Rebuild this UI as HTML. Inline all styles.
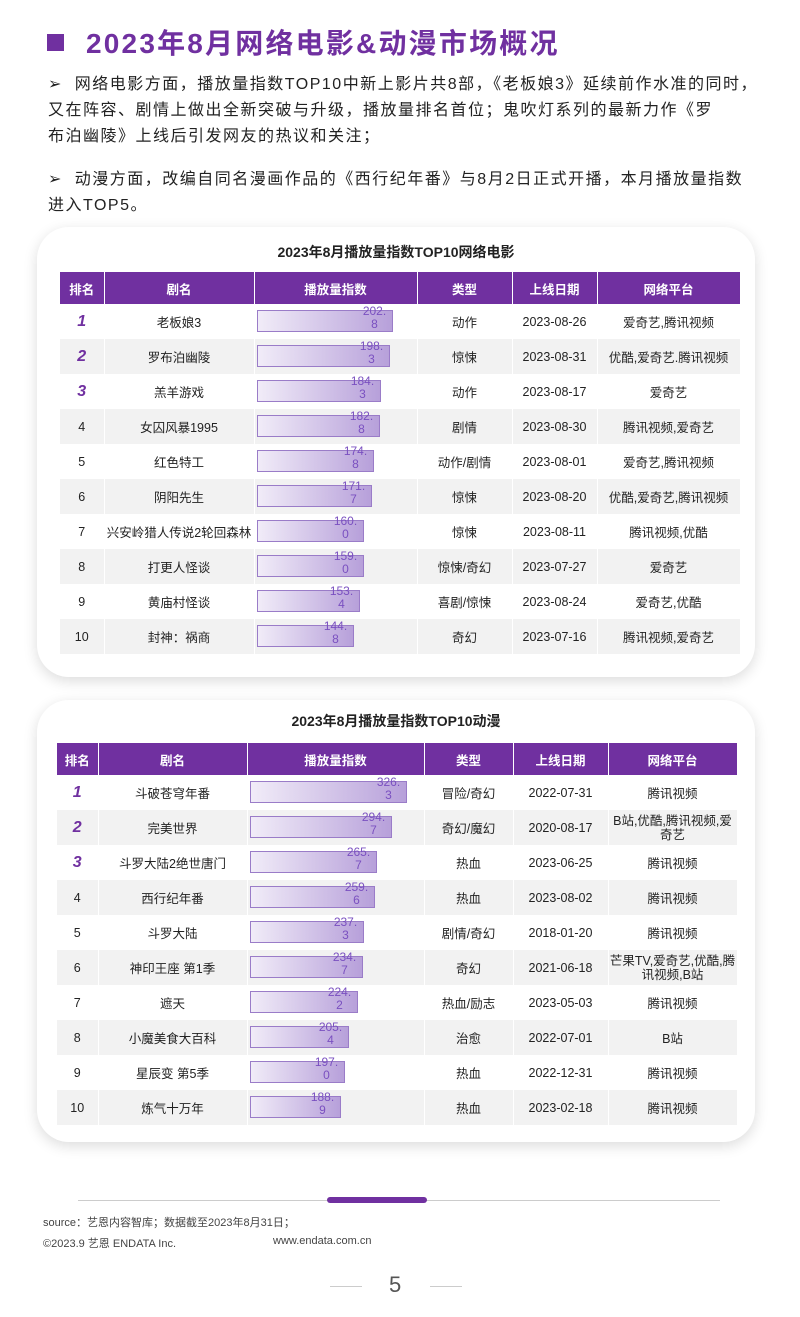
<!DOCTYPE html>
<html><head><meta charset="utf-8"><style>
*{margin:0;padding:0;box-sizing:border-box}
body{width:800px;height:1317px;background:#fff;font-family:"Liberation Sans","Noto Sans CJK SC",sans-serif;color:#222;position:relative;overflow:hidden}
.abs{position:absolute}
.title{left:86px;top:22px;font-size:28px;font-weight:bold;color:#7030a0;letter-spacing:2.2px}
.sq{left:47px;top:34px;width:17px;height:17px;background:#7030a0}
.p{left:48px;font-size:16px;line-height:26px;color:#222;width:720px;letter-spacing:1.5px;white-space:nowrap}
.card{background:#fff;border-radius:32px;box-shadow:0 4px 14px rgba(0,0,0,.14)}
table{border-collapse:collapse;position:absolute;table-layout:fixed}
td,th{text-align:center;font-size:12.5px;height:35px;padding:0;border-right:1px solid #fff;position:relative}
th{background:#7030a0;color:#fff;font-weight:bold;height:32px}
tr:nth-child(odd) td{background:#f2f2f2}
.r{font-style:italic;font-weight:bold;color:#7030a0;font-size:16px}
.bar{position:absolute;left:2px;top:6px;height:22px;border:1px solid #9a7cc8;background:linear-gradient(90deg,#f1ecf8,#b7a0da)}
.bar span{position:absolute;right:2px;top:-6px;width:30px;font-size:12px;line-height:13px;color:#7a50c0;text-align:center}
.ct{font-size:14px;font-weight:bold;text-align:center;width:718px}
</style></head><body>
<div class="abs sq"></div>
<div class="abs title">2023年8月网络电影&amp;动漫市场概况</div>
<div class="abs p" style="top:72px">➢ &nbsp;网络电影方面，播放量指数TOP10中新上影片共8部，《老板娘3》延续前作水准的同时，<br>又在阵容、剧情上做出全新突破与升级，播放量排名首位；鬼吹灯系列的最新力作《罗<br>布泊幽陵》上线后引发网友的热议和关注；</div>
<div class="abs p" style="top:167px">➢ &nbsp;动漫方面，改编自同名漫画作品的《西行纪年番》与8月2日正式开播，本月播放量指数<br>进入TOP5。</div>

<div class="abs card" style="left:37px;top:227px;width:718px;height:450px"></div>
<div class="abs ct" style="left:37px;top:242px">2023年8月播放量指数TOP10网络电影</div>
<table style="left:60px;top:272px;width:680px">
<colgroup><col style="width:44px"><col style="width:150px"><col style="width:163px"><col style="width:95px"><col style="width:85px"><col style="width:143px"></colgroup>
<tr><th>排名</th><th>剧名</th><th>播放量指数</th><th>类型</th><th>上线日期</th><th>网络平台</th></tr>
<tr><td class="r">1</td><td>老板娘3</td><td><div class="bar" style="width:136px"><span>202.<br>8</span></div></td><td>动作</td><td>2023-08-26</td><td>爱奇艺,腾讯视频</td></tr>
<tr><td class="r">2</td><td>罗布泊幽陵</td><td><div class="bar" style="width:133px"><span>198.<br>3</span></div></td><td>惊悚</td><td>2023-08-31</td><td>优酷,爱奇艺.腾讯视频</td></tr>
<tr><td class="r">3</td><td>羔羊游戏</td><td><div class="bar" style="width:124px"><span>184.<br>3</span></div></td><td>动作</td><td>2023-08-17</td><td>爱奇艺</td></tr>
<tr><td>4</td><td>女囚风暴1995</td><td><div class="bar" style="width:123px"><span>182.<br>8</span></div></td><td>剧情</td><td>2023-08-30</td><td>腾讯视频,爱奇艺</td></tr>
<tr><td>5</td><td>红色特工</td><td><div class="bar" style="width:117px"><span>174.<br>8</span></div></td><td>动作/剧情</td><td>2023-08-01</td><td>爱奇艺,腾讯视频</td></tr>
<tr><td>6</td><td>阴阳先生</td><td><div class="bar" style="width:115px"><span>171.<br>7</span></div></td><td>惊悚</td><td>2023-08-20</td><td>优酷,爱奇艺,腾讯视频</td></tr>
<tr><td>7</td><td>兴安岭猎人传说2轮回森林</td><td><div class="bar" style="width:107px"><span>160.<br>0</span></div></td><td>惊悚</td><td>2023-08-11</td><td>腾讯视频,优酷</td></tr>
<tr><td>8</td><td>打更人怪谈</td><td><div class="bar" style="width:107px"><span>159.<br>0</span></div></td><td>惊悚/奇幻</td><td>2023-07-27</td><td>爱奇艺</td></tr>
<tr><td>9</td><td>黄庙村怪谈</td><td><div class="bar" style="width:103px"><span>153.<br>4</span></div></td><td>喜剧/惊悚</td><td>2023-08-24</td><td>爱奇艺,优酷</td></tr>
<tr><td>10</td><td>封神：祸商</td><td><div class="bar" style="width:97px"><span>144.<br>8</span></div></td><td>奇幻</td><td>2023-07-16</td><td>腾讯视频,爱奇艺</td></tr>
</table>

<div class="abs card" style="left:37px;top:700px;width:718px;height:442px"></div>
<div class="abs ct" style="left:37px;top:711px">2023年8月播放量指数TOP10动漫</div>
<table style="left:57px;top:743px;width:680px">
<colgroup><col style="width:41px"><col style="width:149px"><col style="width:177px"><col style="width:89px"><col style="width:95px"><col style="width:129px"></colgroup>
<tr><th style="height:29px">排名</th><th>剧名</th><th>播放量指数</th><th>类型</th><th>上线日期</th><th>网络平台</th></tr>
<tr><td class="r">1</td><td>斗破苍穹年番</td><td><div class="bar" style="width:157px"><span>326.<br>3</span></div></td><td>冒险/奇幻</td><td>2022-07-31</td><td>腾讯视频</td></tr>
<tr><td class="r">2</td><td>完美世界</td><td><div class="bar" style="width:142px"><span>294.<br>7</span></div></td><td>奇幻/魔幻</td><td>2020-08-17</td><td style="line-height:14px">B站,优酷,腾讯视频,爱<br>奇艺</td></tr>
<tr><td class="r">3</td><td>斗罗大陆2绝世唐门</td><td><div class="bar" style="width:127px"><span>265.<br>7</span></div></td><td>热血</td><td>2023-06-25</td><td>腾讯视频</td></tr>
<tr><td>4</td><td>西行纪年番</td><td><div class="bar" style="width:125px"><span>259.<br>6</span></div></td><td>热血</td><td>2023-08-02</td><td>腾讯视频</td></tr>
<tr><td>5</td><td>斗罗大陆</td><td><div class="bar" style="width:114px"><span>237.<br>3</span></div></td><td>剧情/奇幻</td><td>2018-01-20</td><td>腾讯视频</td></tr>
<tr><td>6</td><td>神印王座 第1季</td><td><div class="bar" style="width:113px"><span>234.<br>7</span></div></td><td>奇幻</td><td>2021-06-18</td><td style="line-height:14px">芒果TV,爱奇艺,优酷,腾<br>讯视频,B站</td></tr>
<tr><td>7</td><td>遮天</td><td><div class="bar" style="width:108px"><span>224.<br>2</span></div></td><td>热血/励志</td><td>2023-05-03</td><td>腾讯视频</td></tr>
<tr><td>8</td><td>小魔美食大百科</td><td><div class="bar" style="width:99px"><span>205.<br>4</span></div></td><td>治愈</td><td>2022-07-01</td><td>B站</td></tr>
<tr><td>9</td><td>星辰变 第5季</td><td><div class="bar" style="width:95px"><span>197.<br>0</span></div></td><td>热血</td><td>2022-12-31</td><td>腾讯视频</td></tr>
<tr><td>10</td><td>炼气十万年</td><td><div class="bar" style="width:91px"><span>188.<br>9</span></div></td><td>热血</td><td>2023-02-18</td><td>腾讯视频</td></tr>
</table>

<div class="abs" style="left:78px;top:1200px;width:642px;height:1px;background:#ccc"></div>
<div class="abs" style="left:327px;top:1197px;width:100px;height:6px;border-radius:3px;background:#7030a0"></div>
<div class="abs" style="left:43px;top:1214px;font-size:11px;color:#444">source：艺恩内容智库；数据截至2023年8月31日；</div>
<div class="abs" style="left:43px;top:1235px;font-size:11px;color:#444">©2023.9 艺恩 ENDATA Inc.</div>
<div class="abs" style="left:273px;top:1235px;font-size:11px;color:#444">www.endata.com.cn</div>
<div class="abs" style="left:330px;top:1286px;width:32px;height:1px;background:#ccc"></div>
<div class="abs" style="left:430px;top:1286px;width:32px;height:1px;background:#ccc"></div>
<div class="abs" style="left:389px;top:1272px;font-size:22px;color:#555">5</div>
</body></html>
